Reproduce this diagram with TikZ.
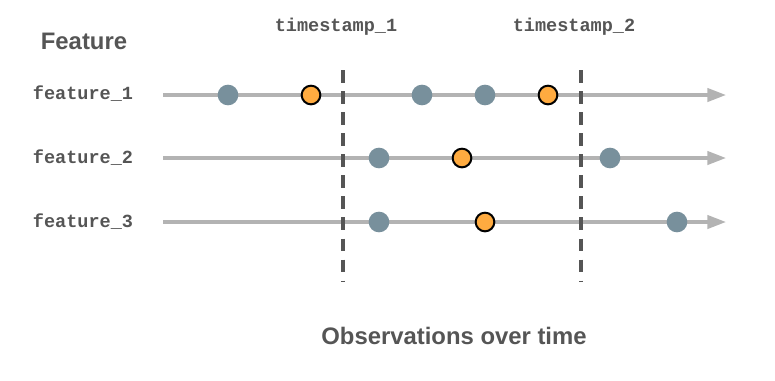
\documentclass[tikz,border=0pt]{standalone}
\usepackage{fontspec}
\setmainfont{Liberation Sans}
\newfontfamily\monof{Liberation Mono}
\usetikzlibrary{arrows.meta}
\definecolor{txtgray}{HTML}{555555}
\definecolor{linegray}{HTML}{B3B3B3}
\definecolor{dashgray}{HTML}{555555}
\definecolor{dotgray}{HTML}{78909C}
\definecolor{dotorange}{HTML}{FFAB40}
\tikzset{
  timeline/.style={draw=linegray, line width=2.4pt, -{Triangle[length=14pt,width=10pt]}},
  cutline/.style={draw=dashgray, line width=2.4pt, dash pattern=on 9.4pt off 6.4pt},
  graydot/.style={circle, fill=dotgray, minimum size=15.5pt, inner sep=0pt},
  orangedot/.style={circle, fill=dotorange, draw=black, line width=1.5pt, minimum size=14pt, inner sep=0pt},
  monolabel/.style={font=\monof\bfseries\fontsize{13.9pt}{16pt}\selectfont, text=txtgray},
  sanslabel/.style={font=\bfseries\fontsize{17.9pt}{21pt}\selectfont, text=txtgray},
}
\begin{document}
\begin{tikzpicture}[x=0.75pt,y=-0.75pt]
\useasboundingbox (0,0) rectangle (775,380);
% labels
\node[sanslabel] (feat) at (84,41) {Feature};
\node[monolabel] (f1) at (83,94) {feature\_1};
\node[monolabel] (f2) at (83,158) {feature\_2};
\node[monolabel] (f3) at (83,222) {feature\_3};
\node[monolabel] (t1) at (336,27) {timestamp\_1};
\node[monolabel] (t2) at (574,27) {timestamp\_2};
\node[sanslabel] (obs) at (454,336) {Observations over time};
% timelines
\coordinate (s1) at (163,95); \coordinate (e1) at (726,95);
\coordinate (s2) at (163,158); \coordinate (e2) at (726,158);
\coordinate (s3) at (163,222); \coordinate (e3) at (726,222);
\draw[timeline] (s1) -- (e1);
\draw[timeline] (s2) -- (e2);
\draw[timeline] (s3) -- (e3);
% cut lines
\coordinate (c1t) at (343,70); \coordinate (c1b) at (343,282);
\coordinate (c2t) at (581,70); \coordinate (c2b) at (581,282);
\draw[cutline] (c1t) -- (c1b);
\draw[cutline] (c2t) -- (c2b);
% dots
\node[graydot] (a1) at (228,95) {};
\node[orangedot] (a2) at (311,95) {};
\node[graydot] (a3) at (422,95) {};
\node[graydot] (a4) at (485,95) {};
\node[orangedot] (a5) at (548,95) {};
\node[graydot] (b1) at (379,158) {};
\node[orangedot] (b2) at (462,158) {};
\node[graydot] (b3) at (610,158) {};
\node[graydot] (d1) at (379,222) {};
\node[orangedot] (d2) at (485,222) {};
\node[graydot] (d3) at (677,222) {};
\end{tikzpicture}
\end{document}
